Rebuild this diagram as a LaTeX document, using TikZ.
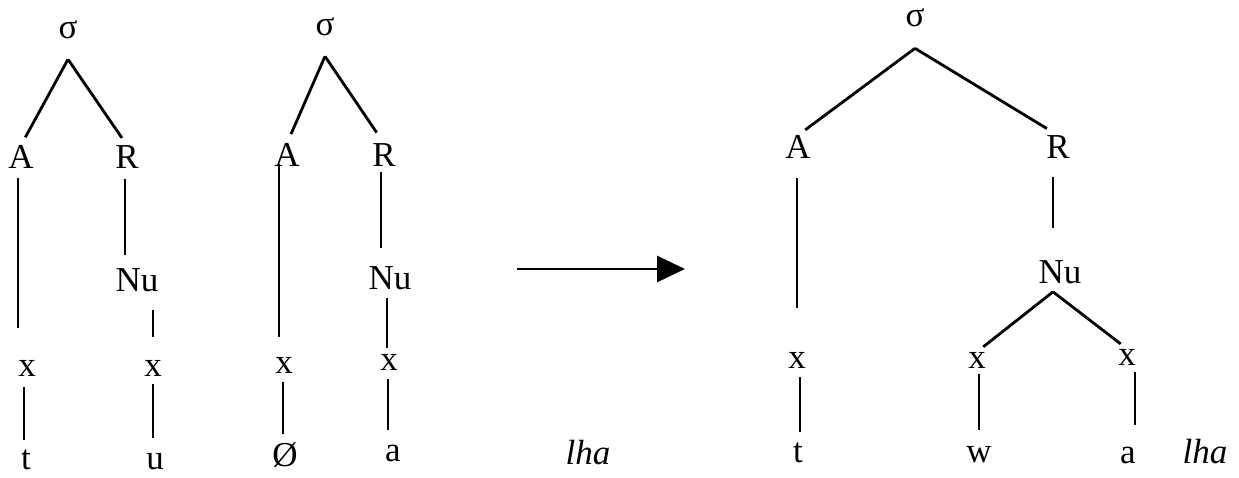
\documentclass[tikz,border=0pt]{standalone}
\usepackage{fontspec}
\setmainfont{Liberation Serif}
\usetikzlibrary{arrows.meta}
\begin{document}
\begin{tikzpicture}[x=1pt,y=-1pt,
  lbl/.style={inner sep=0pt, font=\fontsize{35}{40}\selectfont},
  ln/.style={line width=2.8pt}]
\useasboundingbox (0,0) rectangle (1239,477);
% ---------- tree 1 ----------
\node[lbl] (s1) at (68,30) {σ};
\node[lbl] (A1) at (21,157) {A};
\node[lbl] (R1) at (127,157) {R};
\node[lbl] (N1) at (137,280) {Nu};
\node[lbl] (x1) at (27,368) {x};
\node[lbl] (x2) at (153,368) {x};
\node[lbl] (t1) at (26,460) {t};
\node[lbl] (u1) at (155,462) {u};
\draw[ln,shorten >=9pt] ([yshift=-20pt]s1.south) -- (A1.north);
\draw[ln,shorten >=9pt] ([yshift=-20pt]s1.south) -- (R1.north);
\draw[ln,shorten <=9pt,shorten >=32pt] ([xshift=-3pt]A1.south) -- ([xshift=-3pt]A1.south |- x1.north);
\draw[ln,shorten <=10pt,shorten >=13pt] ([xshift=-2pt]R1.south) -- ([xshift=-2pt]R1.south |- N1.north);
\draw[ln,shorten <=18pt,shorten >=23pt] (N1.south -| x2) -- (x2.north);
\draw[ln,shorten <=11pt,shorten >=10pt] ([xshift=-3pt]x1.south) -- ([xshift=-3pt]x1.south |- t1.north);
\draw[ln,shorten <=8pt,shorten >=16pt] (x2.south) -- (x2.south |- u1.north);
% ---------- tree 2 ----------
\node[lbl] (s2) at (325,27) {σ};
\node[lbl] (A2) at (287,155) {A};
\node[lbl] (R2) at (384,155) {R};
\node[lbl] (N2) at (390,278) {Nu};
\node[lbl] (x3) at (284,365) {x};
\node[lbl] (x4) at (389,362) {x};
\node[lbl] (o2) at (285,455) {Ø};
\node[lbl] (a2) at (393,453) {a};
\draw[ln,shorten >=10pt] ([yshift=-20pt]s2.south) -- (A2.north);
\draw[ln,shorten >=13pt] ([yshift=-20pt]s2.south) -- (R2.north);
\draw[ln,shorten <=-3pt,shorten >=20pt] ([xshift=-5pt]A2.south -| x3) -- ([xshift=-5pt]x3.north);
\draw[ln,shorten <=5pt,shorten >=18pt] ([xshift=-3pt]R2.south) -- ([xshift=-3pt]R2.south |- N2.north);
\draw[ln,shorten <=8pt,shorten >=6pt] ([xshift=-2pt]N2.south -| x4) -- ([xshift=-2pt]x4.north);
\draw[ln,shorten <=9pt,shorten >=8pt] ([xshift=-1pt]x3.south) -- ([xshift=-1pt]x3.south |- o2.north);
\draw[ln,shorten <=9pt,shorten >=14pt] ([xshift=-1pt]x4.south) -- ([xshift=-1pt]x4.south |- a2.north);
% ---------- arrow ----------
\coordinate (arrL) at (517,269);
\coordinate (arrR) at (685,269);
\draw[ln,-{Triangle[length=28pt,width=26pt]}] (arrL) -- (arrR);
\node[lbl,font=\fontsize{35}{40}\selectfont\itshape] (lha1) at (588,453) {lha};
% ---------- tree 3 ----------
\node[lbl] (s3) at (915,18) {σ};
\node[lbl] (A3) at (798,147) {A};
\node[lbl] (R3) at (1058,147) {R};
\node[lbl] (N3) at (1060,272) {Nu};
\node[lbl] (x5) at (797,360) {x};
\node[lbl] (x6) at (977,360) {x};
\node[lbl] (x7) at (1127,357) {x};
\node[lbl] (t2) at (798,453) {t};
\node[lbl] (w3) at (979,455) {w};
\node[lbl] (a3) at (1128,455) {a};
\node[lbl,font=\fontsize{35}{40}\selectfont\itshape] (lha2) at (1205,452) {lha};
\draw[ln,shorten >=9pt] ([yshift=-21pt]s3.south) -- (A3.north);
\draw[ln,shorten >=13pt] ([yshift=-21pt]s3.south) -- (R3.north);
\draw[ln,shorten <=19pt,shorten >=44pt] ([xshift=-1pt]A3.south) -- ([xshift=-1pt]A3.south |- x5.north);
\draw[ln,shorten <=18pt,shorten >=32pt] ([xshift=-5pt]R3.south) -- ([xshift=-5pt]R3.south |- N3.north);
\draw[ln,shorten >=8pt] ([yshift=-8pt,xshift=-7pt]N3.south) -- (x6.north);
\draw[ln,shorten >=8pt] ([yshift=-8pt,xshift=-7pt]N3.south) -- (x7.north);
\draw[ln,shorten <=9pt,shorten >=11pt] ([xshift=3pt]x5.south) -- ([xshift=3pt]x5.south |- t2.north);
\draw[ln,shorten <=6pt,shorten >=17pt] ([xshift=2pt]x6.south) -- ([xshift=2pt]x6.south |- w3.north);
\draw[ln,shorten <=7pt,shorten >=21pt] ([xshift=8pt]x7.south) -- ([xshift=8pt]x7.south |- a3.north);
\end{tikzpicture}
\end{document}
